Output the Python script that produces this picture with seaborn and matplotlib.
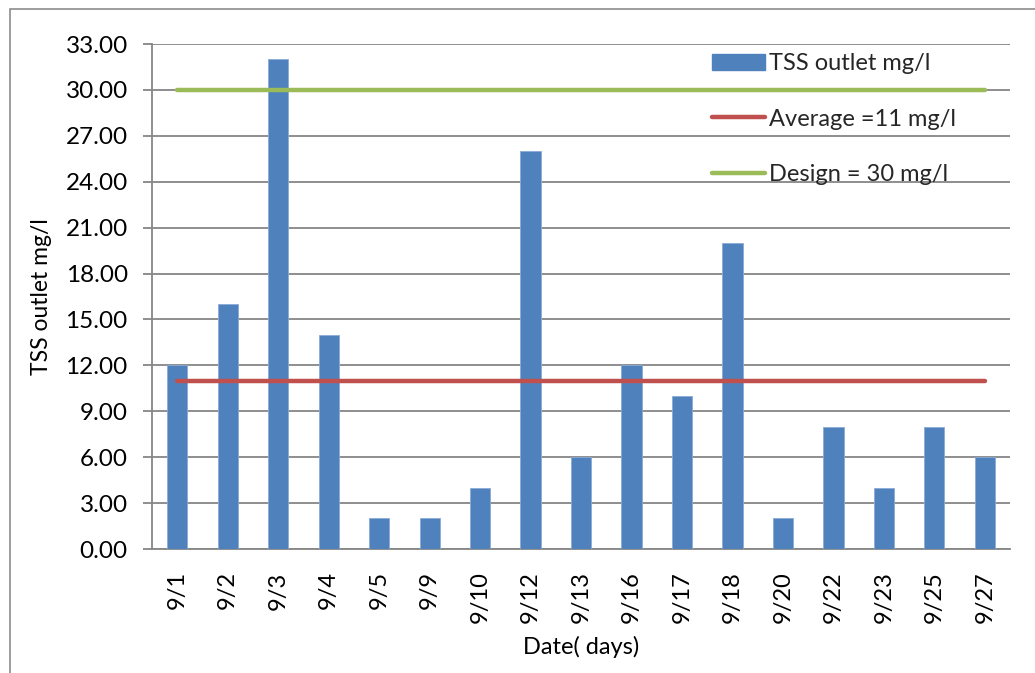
import matplotlib
matplotlib.use("Agg")
import matplotlib.pyplot as plt
from matplotlib.patches import Patch, Rectangle
from matplotlib.lines import Line2D
from matplotlib.ticker import FormatStrFormatter
import seaborn as sns
import pandas as pd

dates = ["9/1", "9/2", "9/3", "9/4", "9/5", "9/9", "9/10", "9/12", "9/13",
         "9/16", "9/17", "9/18", "9/20", "9/22", "9/23", "9/25", "9/27"]
tss = [12, 16, 32, 14, 2, 2, 4, 26, 6, 12, 10, 20, 2, 8, 4, 8, 6]
average = 11
design = 30
yticks = [0, 3, 6, 9, 12, 15, 18, 21, 24, 27, 30, 33]

sns.set_theme(style="white")
plt.rcParams["font.family"] = ["Lato", "DejaVu Sans"]

bar_color = "#4F81BD"
avg_color = "#C0504D"
design_color = "#9BBB59"
grid_color = "#868686"

df = pd.DataFrame({"date": dates, "tss": tss})

fig = plt.figure(figsize=(10.35, 6.73), dpi=100)
ax = fig.add_axes([0.1469, 0.1842, 0.829, 0.7504])

sns.barplot(data=df, x="date", y="tss", color=bar_color, width=0.4,
            saturation=1, edgecolor="#8AAAD6", linewidth=0.6, ax=ax, zorder=3)

n = len(dates)
ax.hlines(average, 0, n - 1, color=avg_color, lw=3.2, capstyle="round", zorder=4)
ax.hlines(design, 0, n - 1, color=design_color, lw=3.2, capstyle="round", zorder=4)

ax.set_ylim(0, 33)
ax.set_xlim(-0.5, n - 0.5)
ax.set_yticks(yticks)
ax.yaxis.set_major_formatter(FormatStrFormatter("%.2f"))
ax.yaxis.grid(True, color=grid_color, lw=1.3, zorder=0)
ax.set_axisbelow(True)

for side in ("top", "right"):
    ax.spines[side].set_visible(False)
for side in ("left", "bottom"):
    ax.spines[side].set_color(grid_color)
    ax.spines[side].set_linewidth(1.3)

ax.tick_params(axis="y", left=True, length=6.5, width=1.3, color=grid_color,
               labelsize=17.5, labelcolor="black", pad=11)
ax.tick_params(axis="x", bottom=False, labelsize=17, labelcolor="black",
               rotation=90, pad=10)

ax.set_xlabel("Date( days)", fontsize=17, color="black", labelpad=9)
ax.set_ylabel("TSS outlet mg/l", fontsize=16.5, color="black", labelpad=10)

handles = [
    Patch(facecolor=bar_color, edgecolor=bar_color),
    Line2D([0], [0], color=avg_color, lw=3.2, solid_capstyle="round"),
    Line2D([0], [0], color=design_color, lw=3.2, solid_capstyle="round"),
]
labels = ["TSS outlet mg/l", "Average =11 mg/l", "Design = 30 mg/l"]
ax.legend(handles, labels, loc="upper left", bbox_to_anchor=(0.642, 1.0),
          frameon=False, fontsize=17, handlelength=2.25, handletextpad=0.15,
          labelspacing=1.45, borderaxespad=0)

# outer chart frame
fig.add_artist(Rectangle((10 / 1035, -0.05), 1.2, 1 - 9 / 673 + 0.05,
                         transform=fig.transFigure, fill=False,
                         edgecolor="#8C8C8C", lw=1.2, clip_on=False))

fig.savefig("out.png", dpi=100)
